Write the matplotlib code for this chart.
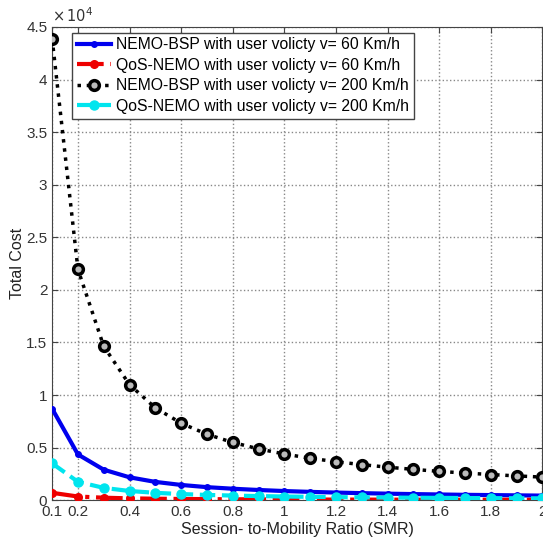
import numpy as np
import matplotlib.pyplot as plt

plt.rcParams['font.family'] = ['Liberation Sans', 'DejaVu Sans']

smr = [0.1, 0.2, 0.3, 0.4, 0.5, 0.6, 0.7, 0.8, 0.9, 1.0,
       1.1, 1.2, 1.3, 1.4, 1.5, 1.6, 1.7, 1.8, 1.9, 2.0]

bsp_60 = [8700, 4350, 2900, 2175, 1740, 1450, 1240, 1090, 970, 870,
          790, 725, 670, 620, 580, 545, 510, 485, 460, 435]
qos_60 = [700, 350, 235, 175, 140, 117, 100, 88, 78, 70,
          64, 58, 54, 50, 47, 44, 41, 39, 37, 35]
bsp_200 = [43900, 21950, 14630, 10980, 8780, 7320, 6270, 5490, 4880, 4390,
           3990, 3660, 3380, 3140, 2930, 2740, 2580, 2440, 2310, 2195]
qos_200 = [3500, 1750, 1170, 875, 700, 585, 500, 440, 390, 350,
           320, 290, 270, 250, 235, 220, 205, 195, 185, 175]

labels = ['NEMO-BSP with user volicty v= 60 Km/h',
          'QoS-NEMO with user volicty v= 60 Km/h',
          'NEMO-BSP with user volicty v= 200 Km/h',
          'QoS-NEMO with user volicty v= 200 Km/h']

xticks = [0.1, 0.2, 0.4, 0.6, 0.8, 1, 1.2, 1.4, 1.6, 1.8, 2]
xticklabels = ['0.1', '0.2', '0.4', '0.6', '0.8', '1', '1.2', '1.4', '1.6', '1.8', '2']
yticks = [0, 0.5, 1, 1.5, 2, 2.5, 3, 3.5, 4, 4.5]

fig = plt.figure(figsize=(5.43, 5.39), dpi=100)
ax = fig.add_axes([0.096, 0.072, 0.903, 0.878])

x = np.array(smr)
ax.plot(x, np.array(bsp_60) / 1e4, '-', color='#0000ee', lw=3, marker='.', ms=8, label=labels[0], zorder=4)
ax.plot(x, np.array(qos_60) / 1e4, '-.', color='#ee0000', lw=3, marker='.', ms=11, label=labels[1], zorder=5)
ax.plot(x, np.array(bsp_200) / 1e4, ':', color='black', lw=2.5, marker='o', ms=7,
        mfc='#bbbbbb', mec='black', mew=2.5, label=labels[2], zorder=3)
ax.plot(x, np.array(qos_200) / 1e4, '--', color='#00e5ee', lw=3, marker='.', ms=13, label=labels[3], zorder=6)

ax.set_xlim(0.1, 2)
ax.set_ylim(0, 4.5)
ax.set_xticks(xticks)
ax.set_xticklabels(xticklabels)
ax.set_yticks(yticks)
ax.set_yticklabels(['0', '0.5', '1', '1.5', '2', '2.5', '3', '3.5', '4', '4.5'])
ax.tick_params(direction='in', labelsize=11, labelcolor='#333333', length=4, color='#444444')
ax.tick_params(top=True, right=True)
ax.grid(True, linestyle=':', color='#888888', lw=1)
for s in ax.spines.values():
    s.set_color('#444444')

ax.text(0.0, 1.005, r'$\times\,10^4$', transform=ax.transAxes, fontsize=10.5, color='#333333',
        ha='left', va='bottom')

ax.set_xlabel('Session- to-Mobility Ratio (SMR)', fontsize=11.5, color='#222222', labelpad=2)
ax.set_ylabel('Total Cost', fontsize=11.5, color='#222222', labelpad=1)

leg = ax.legend(loc='upper left', bbox_to_anchor=(0.041, 0.988), borderaxespad=0, fontsize=11.3,
                handlelength=2.2, borderpad=0.3, labelspacing=0.35, handletextpad=0.3,
                fancybox=False, framealpha=1, edgecolor='#444444')
leg.get_frame().set_linewidth(1)

fig.savefig('out.png', dpi=100)
